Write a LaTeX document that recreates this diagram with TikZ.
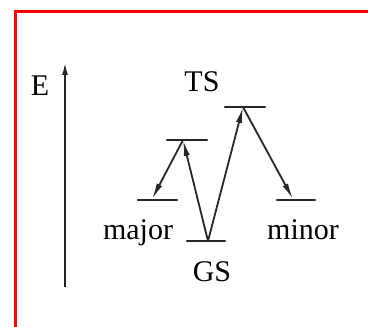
\documentclass[tikz,border=0pt]{standalone}
\usepackage{fontspec}
\setmainfont{Liberation Serif}
\usetikzlibrary{arrows.meta,calc}
\usepackage{tkz-euclide}
\definecolor{FrameClr}{rgb}{1,0,0}

\begin{document}
\begin{tikzpicture}[x=1pt,y=1pt,
  lbl/.style={font=\fontsize{30}{36}\selectfont,inner sep=0pt,anchor=base},
  tip/.style={-{Latex[length=16pt,width=6pt]}}]
\useasboundingbox (0,0) rectangle (368,327);
\tkzSetUpLine[line width=1.8pt,color=black!85]

\tkzDefPoints{16/0/F0,16/315.5/F1,368/315.5/F2}
\tkzDefPoints{65/40/E0,65/265/E1}
\tkzDefPoints{187/86/G1,225/86/G2,208/86/G}
\tkzDefPoints{167/187/L1,207/187/L2,183/187/L}
\tkzDefPoints{225/220/T1,265/220/T2,243/220/T}
\tkzDefPoints{138/127/A1,177/127/A2,152/128/A}
\tkzDefPoints{277/127/B1,315/127/B2,293/128/B}

\tkzDrawPolySeg[color=FrameClr,line width=3pt](F0,F1,F2)

\draw[line width=2pt,color=black!85,-{Latex[length=13pt,width=6pt]}] (E0) -- (E1);

\tkzDrawSegments[line width=2.4pt](G1,G2 L1,L2 T1,T2 A1,A2 B1,B2)

\draw[line width=1.8pt,color=black!85,tip] (G) -- (L);
\draw[line width=1.8pt,color=black!85,tip] (L) -- (A);
\draw[line width=1.8pt,color=black!85,tip] (G) -- (T);
\draw[line width=1.8pt,color=black!85,tip] (T) -- (B);

\node[lbl] (lblE) at (40,231) {E};
\node[lbl] (lblTS) at (202,235) {TS};
\node[lbl] (lblGS) at (212,45) {GS};
\node[lbl] (lblmaj) at (138,87) {major};
\node[lbl] (lblmin) at (303,87) {minor};

\end{tikzpicture}
\end{document}
